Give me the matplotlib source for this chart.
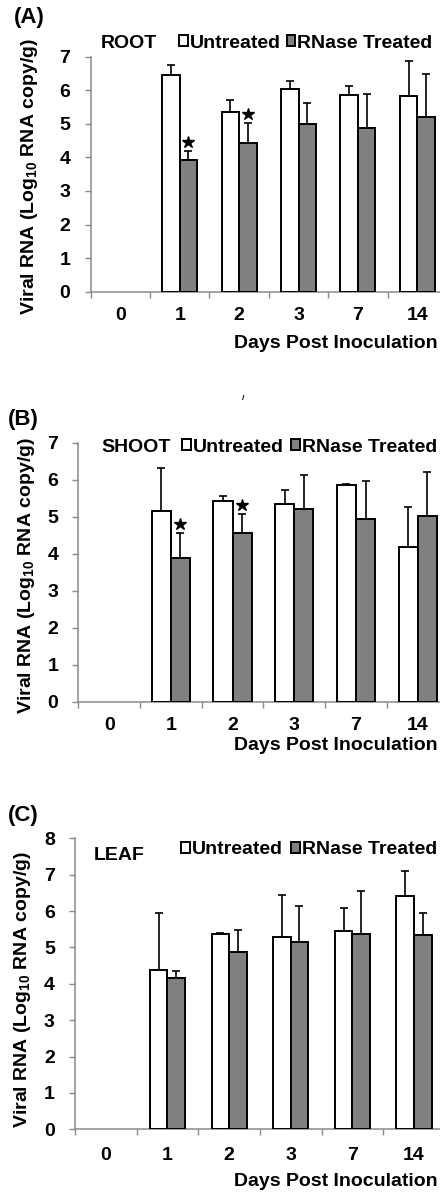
import numpy as np
import matplotlib
matplotlib.use("Agg")
import matplotlib.pyplot as plt
from matplotlib.ticker import FixedLocator, NullFormatter

plt.rcParams["font.family"] = "Liberation Sans"
plt.rcParams["font.weight"] = "bold"
plt.rcParams["mathtext.fontset"] = "custom"
plt.rcParams["mathtext.bf"] = "Liberation Sans:bold"
plt.rcParams["mathtext.rm"] = "Liberation Sans:bold"
plt.rcParams["mathtext.default"] = "bf"

# ---- data ----
days = ["0", "1", "2", "3", "7", "14"]
series = ["Untreated", "RNase Treated"]

root_untreated = [np.nan, 6.45, 5.36, 6.03, 5.86, 5.84]
root_untreated_sd = [np.nan, 0.30, 0.36, 0.24, 0.26, 1.03]
root_rnase = [np.nan, 3.92, 4.42, 4.99, 4.88, 5.19]
root_rnase_sd = [np.nan, 0.27, 0.61, 0.62, 1.02, 1.28]
root_sig = [False, True, True, False, False, False]

shoot_untreated = [np.nan, 5.15, 5.43, 5.34, 5.87, 4.19]
shoot_untreated_sd = [np.nan, 1.16, 0.14, 0.38, 0.02, 1.06]
shoot_rnase = [np.nan, 3.89, 4.57, 5.21, 4.93, 5.03]
shoot_rnase_sd = [np.nan, 0.66, 0.49, 0.92, 1.03, 1.19]
shoot_sig = [False, True, True, False, False, False]

leaf_untreated = [np.nan, 4.38, 5.37, 5.30, 5.45, 6.42]
leaf_untreated_sd = [np.nan, 1.58, 0.04, 1.14, 0.63, 0.67]
leaf_rnase = [np.nan, 4.17, 4.87, 5.16, 5.37, 5.34]
leaf_rnase_sd = [np.nan, 0.19, 0.61, 0.98, 1.19, 0.60]
leaf_sig = [False] * 6

W, H = 440, 1193
fig = plt.figure(figsize=(W / 100, H / 100), dpi=100)

FS = 14


def fx(x):
    return x / W


def fy(y):
    return 1 - y / H


AXIS_GRAY = "#8a8a8a"
BAR_GRAY = "#808080"


def panel(box, ymax, untreated, u_sd, rnase, r_sd, sig, width,
          letter, letter_xy, tissue, tissue_xy, legend_xy, colspace,
          ylabel_xy, xlabel_y, xtick_pad):
    left, top, right, bottom = box
    ax = fig.add_axes([fx(left), fy(bottom), fx(right - left), (bottom - top) / H])
    x = np.arange(len(days))
    u = np.array(untreated, dtype=float)
    r = np.array(rnase, dtype=float)
    us = np.array(u_sd, dtype=float)
    rs = np.array(r_sd, dtype=float)

    b1 = ax.bar(x - width / 2, u, width, color="white", edgecolor="black",
                linewidth=1.4, label=series[0], zorder=3)
    b2 = ax.bar(x + width / 2, r, width, color=BAR_GRAY, edgecolor="black",
                linewidth=1.4, label=series[1], zorder=3)
    ax.errorbar(x - width / 2, u, yerr=[np.zeros_like(us), us], fmt="none",
                ecolor="black", elinewidth=1.2, capsize=3, capthick=1.2, zorder=2)
    ax.errorbar(x + width / 2, r, yerr=[np.zeros_like(rs), rs], fmt="none",
                ecolor="black", elinewidth=1.2, capsize=3, capthick=1.2, zorder=2)

    for i, s in enumerate(sig):
        if s:
            ax.plot(x[i] + width / 2, r[i] + rs[i] + 0.26, marker="*",
                    color="black", markersize=9, zorder=4, clip_on=False)

    ax.set_xlim(-0.5, len(days) - 0.5)
    ax.set_ylim(0, ymax)
    ax.set_yticks(range(0, ymax + 1))
    ax.set_xticks(x)
    ax.set_xticklabels(days)
    ax.xaxis.set_minor_locator(FixedLocator(np.arange(-0.5, len(days) - 0.4, 1)))
    ax.xaxis.set_minor_formatter(NullFormatter())
    ax.tick_params(axis="x", which="major", length=0, pad=xtick_pad, labelsize=FS)
    ax.tick_params(axis="x", which="minor", length=4, width=1, color=AXIS_GRAY,
                   direction="out")
    ax.tick_params(axis="y", length=4, width=1, color=AXIS_GRAY, pad=10.5,
                   labelsize=FS)
    for sp in ["top", "right"]:
        ax.spines[sp].set_visible(False)
    for sp in ["left", "bottom"]:
        ax.spines[sp].set_color(AXIS_GRAY)
        ax.spines[sp].set_linewidth(1.1)
    ax.set_facecolor("none")

    fig.text(fx(letter_xy[0]), fy(letter_xy[1]), letter, fontsize=16,
             fontweight="bold", ha="left", va="center")
    fig.text(fx(tissue_xy[0]), fy(tissue_xy[1]), tissue, fontsize=FS,
             fontweight="bold", ha="left", va="center")
    fig.text(fx(ylabel_xy[0]), fy(ylabel_xy[1]),
             "Viral RNA (Log$_{10}$ RNA copy/g)", rotation=90, fontsize=FS,
             fontweight="bold", ha="center", va="center")
    fig.text(fx(438), fy(xlabel_y), "Days Post Inoculation", fontsize=FS,
             fontweight="bold", ha="right", va="center")
    ax.legend(handles=[b1, b2], ncol=2, frameon=False, fontsize=FS,
              loc="center left", bbox_to_anchor=(fx(legend_xy[0]), fy(legend_xy[1])),
              bbox_transform=fig.transFigure, borderpad=0, borderaxespad=0,
              handlelength=0.45, handleheight=0.45, handletextpad=0.1,
              columnspacing=colspace)
    return ax


panel((90.6, 56.7, 447, 291.7), 7, root_untreated, root_untreated_sd,
      root_rnase, root_rnase_sd, root_sig, 0.295,
      "(A)", (14, 18), "ROOT", (101, 43), (179, 43), 0.3,
      (30, 177), 343, 11)

panel((78.3, 442.7, 448.5, 701.7), 7, shoot_untreated, shoot_untreated_sd,
      shoot_rnase, shoot_rnase_sd, shoot_sig, 0.31,
      "(B)", (8, 419), "SHOOT", (101, 447), (182, 447), 0.4,
      (27, 576), 746, 11)

panel((75, 838.3, 444.8, 1129.3), 8, leaf_untreated, leaf_untreated_sd,
      leaf_rnase, leaf_rnase_sd, leaf_sig, 0.285,
      "(C)", (8, 815), "LEAF", (94, 855), (181, 850), 0.45,
      (23, 990), 1181, 13)

# stray stroke in the original scan between panels A and B
fig.text(fx(243), fy(398), "/", fontsize=6, fontweight="bold", ha="center",
         va="center")

fig.savefig("out.png", dpi=100)
